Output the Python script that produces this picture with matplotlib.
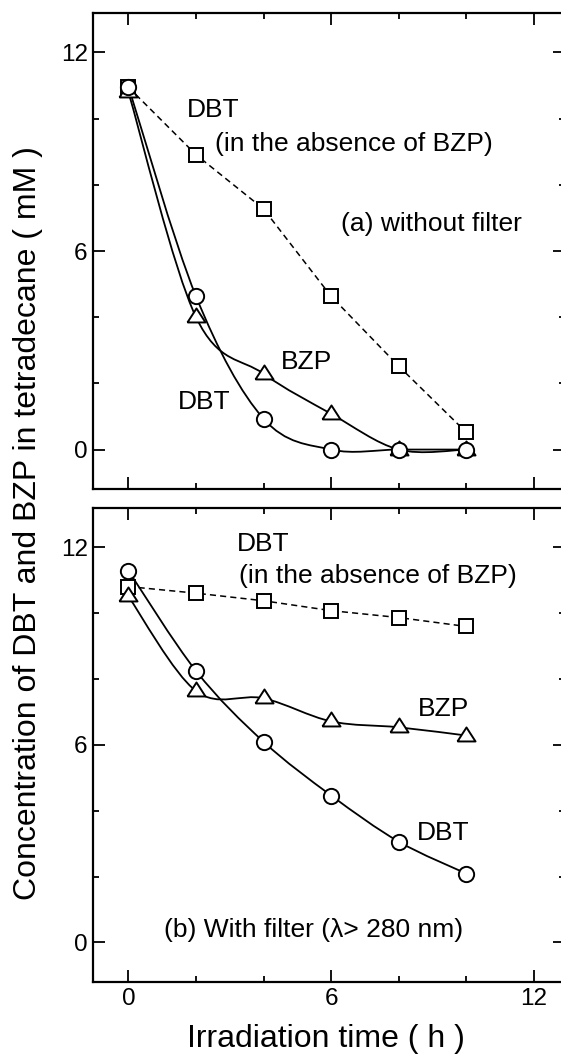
import numpy as np
import matplotlib.pyplot as plt
from matplotlib.path import Path
from matplotlib.patches import PathPatch
from matplotlib.ticker import MultipleLocator

plt.rcParams['font.family'] = ['Liberation Sans', 'DejaVu Sans']

# irradiation time (h)
hours = [0, 2, 4, 6, 8, 10]

# (a) without filter
a_dbt_alone = [10.95, 8.91, 7.27, 4.63, 2.52, 0.52]
a_dbt = [10.97, 4.63, 0.93, 0.0, 0.0, 0.0]
a_bzp = [10.8, 4.0, 2.29, 1.08, 0.0, 0.0]

# (b) with filter (lambda > 280 nm)
b_dbt_alone = [10.8, 10.6, 10.37, 10.07, 9.86, 9.59]
b_dbt = [11.28, 8.24, 6.09, 4.46, 3.06, 2.09]
b_bzp = [10.5, 7.63, 7.41, 6.71, 6.53, 6.28]

# wide, flat triangle like the original symbol
tri = [(-1, -0.55), (1, -0.55), (0, 1.0), (-1, -0.55)]


def smooth_line(ax, xs, ys):
    # smooth curve through the points (Catmull-Rom drawn as cubic Bezier)
    p = list(zip(xs, ys))
    n = len(p)
    verts = [p[0]]
    codes = [Path.MOVETO]
    for i in range(n - 1):
        p0 = np.array(p[max(i - 1, 0)])
        p1 = np.array(p[i])
        p2 = np.array(p[i + 1])
        p3 = np.array(p[min(i + 2, n - 1)])
        c1 = p1 + (p2 - p0) / 6.0
        c2 = p2 - (p3 - p1) / 6.0
        verts += [tuple(c1), tuple(c2), tuple(p2)]
        codes += [Path.CURVE4] * 3
    patch = PathPatch(Path(verts, codes), facecolor='none', edgecolor='black',
                      lw=1.3, zorder=2)
    ax.add_patch(patch)


def draw_panel(ax, dbt_alone, dbt, bzp):
    ax.plot(hours, dbt_alone, color='black', lw=1.1, ls=(0, (4, 2.7)),
            marker='s', ms=9.5, mfc='white', mec='black', mew=1.4, zorder=3)
    smooth_line(ax, hours, bzp)
    smooth_line(ax, hours, dbt)
    ax.plot(hours, bzp, ls='none', marker=tri, ms=13, mfc='white',
            mec='black', mew=1.4, zorder=4)
    ax.plot(hours, dbt, ls='none', marker='o', ms=11, mfc='white',
            mec='black', mew=1.4, zorder=5)
    ax.set_xlim(-1.04, 12.92)
    ax.set_ylim(-1.2, 13.2)
    ax.xaxis.set_major_locator(MultipleLocator(6))
    ax.xaxis.set_minor_locator(MultipleLocator(2))
    ax.yaxis.set_major_locator(MultipleLocator(6))
    ax.yaxis.set_minor_locator(MultipleLocator(2))
    ax.tick_params(which='both', direction='in', top=True, right=True,
                   width=1.3, labelsize=17.5, pad=4)
    ax.tick_params(which='major', length=8.6)
    ax.tick_params(which='minor', length=4.3)
    for s in ax.spines.values():
        s.set_linewidth(1.6)


fig = plt.figure(figsize=(5.61, 10.54), dpi=100)
ax1 = fig.add_axes([0.1663, 0.5358, 0.8408, 0.4521])
ax2 = fig.add_axes([0.1663, 0.0683, 0.8408, 0.4502])

draw_panel(ax1, a_dbt_alone, a_dbt, a_bzp)
draw_panel(ax2, b_dbt_alone, b_dbt, b_bzp)
ax1.tick_params(labelbottom=False)

fs = 19
ax1.text(1.74, 10.25, 'DBT', fontsize=fs, va='center')
ax1.text(2.57, 9.24, '(in the absence of BZP)', fontsize=fs, va='center')
ax1.text(6.3, 6.82, '(a) without filter', fontsize=fs, va='center')
ax1.text(4.5, 2.64, 'BZP', fontsize=fs, va='center')
ax1.text(1.47, 1.43, 'DBT', fontsize=fs, va='center')

ax2.text(3.22, 12.08, 'DBT', fontsize=fs, va='center')
ax2.text(3.27, 11.11, '(in the absence of BZP)', fontsize=fs, va='center')
ax2.text(8.58, 7.09, 'BZP', fontsize=fs, va='center')
ax2.text(8.53, 3.33, 'DBT', fontsize=fs, va='center')
ax2.text(1.04, 0.37, '(b) With filter (\u03bb> 280 nm)', fontsize=fs, va='center')

fig.text(0.581, 0.0066, 'Irradiation time ( h )', fontsize=23,
         ha='center', va='baseline')
fig.text(0.05, 0.504, 'Concentration of DBT and BZP in tetradecane ( mM )',
         fontsize=23, rotation=90, ha='center', va='center')

fig.savefig('out.png', dpi=100)
